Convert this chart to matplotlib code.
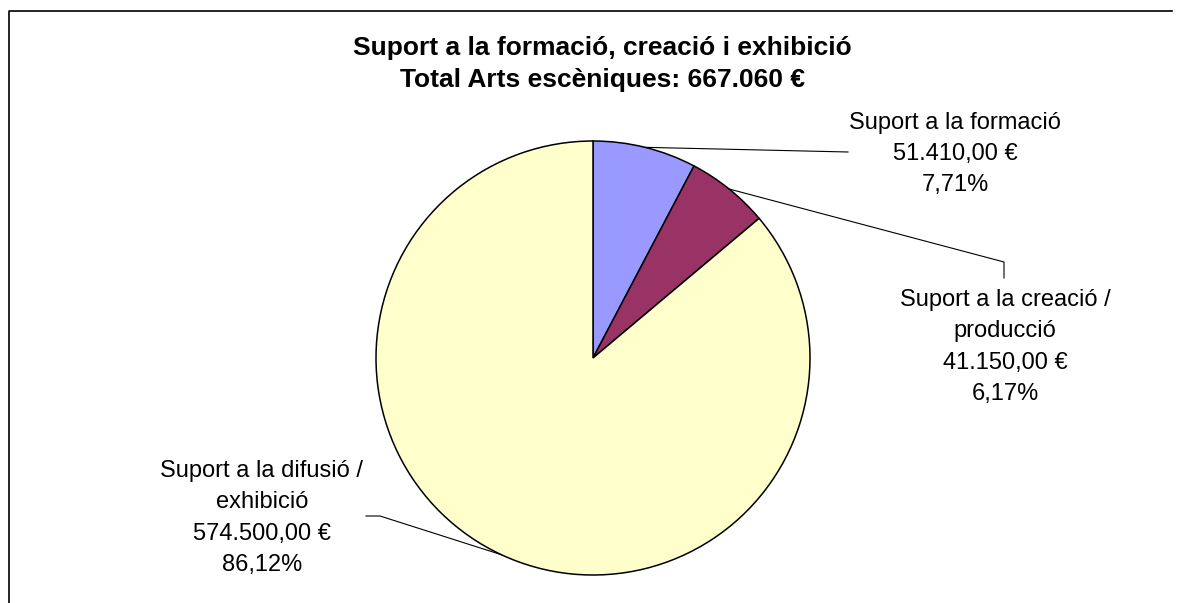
import numpy as np
import matplotlib.pyplot as plt

plt.rcParams['font.family'] = ['Liberation Sans', 'DejaVu Sans']

# data
categories = ['Suport a la formació', 'Suport a la creació /\nproducció', 'Suport a la difusió /\nexhibició']
values = [51410.00, 41150.00, 574500.00]
colors = ['#9999FF', '#993366', '#FFFFCC']
title = 'Suport a la formació, creació i exhibició\nTotal Arts escèniques: 667.060 €'


def euro(v):
    s = f'{v:,.2f}'
    return s.replace(',', 'X').replace('.', ',').replace('X', '.') + ' €'


W, H = 1181, 603
fig = plt.figure(figsize=(W / 100, H / 100), dpi=100)
ax = fig.add_axes([0, 0, 1, 1])
ax.set_xlim(0, W)
ax.set_ylim(0, H)
ax.set_aspect('equal')
ax.axis('off')

# frame (top and left visible)
ax.plot([9, 9, 1172], [0, H - 11, H - 11], color='black', lw=1.2)

cx, cy, r = 593, H - 358, 217
wedges, _ = ax.pie(values, colors=colors, startangle=90, counterclock=False,
                   center=(cx, cy), radius=r, frame=True,
                   wedgeprops=dict(edgecolor='black', linewidth=1.1))
ax.set_xlim(0, W)
ax.set_ylim(0, H)
ax.axis('off')

total = sum(values)
# label text centre, leader path (pixel coords from top-left)
label_pos = [(955, 154), (1005, 347), (262, 518)]
leader_pts = [[(848, 152)], [(1004, 262), (1004, 278)], [(380, 516), (366, 516)]]

for w, cat, v, (lx, ly), pts in zip(wedges, categories, values, label_pos, leader_pts):
    mid = np.deg2rad((w.theta1 + w.theta2) / 2)
    px, py = cx + r * np.cos(mid), cy + r * np.sin(mid)
    xs = [px] + [p[0] for p in pts]
    ys = [py] + [H - p[1] for p in pts]
    ax.plot(xs, ys, color='black', lw=0.8)
    pct = f'{100 * v / total:.2f}%'.replace('.', ',')
    ax.text(lx, H - ly, f'{cat}\n{euro(v)}\n{pct}', ha='center', va='center',
            fontsize=17, linespacing=1.55, color='black')

ax.text(602, H - 64, title, ha='center', va='center', fontsize=19,
        fontweight='bold', linespacing=1.44)

fig.savefig('out.png', dpi=100)
